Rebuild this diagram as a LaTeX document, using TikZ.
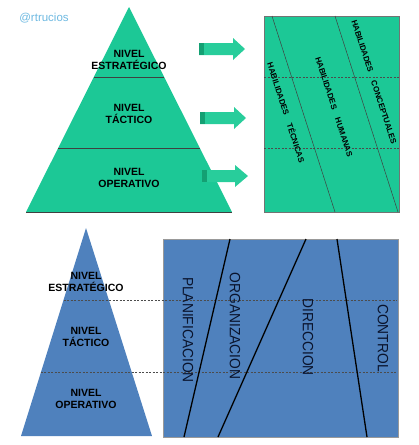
\documentclass[tikz,border=0pt]{standalone}
\usepackage{fontspec}
\setmainfont{Liberation Sans}
\definecolor{pgreen}{RGB}{28,200,150}
\definecolor{agreen}{RGB}{40,205,155}
\definecolor{adark}{RGB}{20,160,115}
\definecolor{pblue}{RGB}{79,129,189}
\definecolor{wmark}{RGB}{110,185,225}
\definecolor{navytext}{RGB}{10,20,45}
\begin{document}
\begin{tikzpicture}[x=1pt,y=-1pt,
  level/.style={font=\fontsize{10.5}{12}\selectfont\bfseries, align=center, text=black, inner sep=0pt},
  habil/.style={font=\fontsize{8}{9}\selectfont\bfseries, rotate=-72, text=black, inner sep=0pt},
  func/.style={font=\fontsize{13.8}{15}\selectfont, rotate=-90, text=navytext, inner sep=0pt},
  thinline/.style={draw=black!75, line width=0.5pt},
  dashline/.style={draw=black!70, line width=0.5pt, dash pattern=on 2pt off 1.5pt},
  thickline/.style={draw=black, line width=1.3pt}]
\useasboundingbox (0,0) rectangle (419,445);

% watermark
\node[font=\fontsize{11.5}{12}\selectfont, text=wmark, inner sep=0pt] (wm) at (44,18) {@rtrucios};

% ---------- top pyramid ----------
\fill[pgreen] (129,7) -- (232,212) -- (26,212) -- cycle;
\draw[thinline] (26,212) -- (232,212);
\draw[thinline] (93.8,77) -- (164.2,77);
\draw[thinline] (58.2,148) -- (199.8,148);
\node[level] (te) at (129,60) {NIVEL\\ESTRATÉGICO};
\node[level] (tt) at (129,114) {NIVEL\\TÁCTICO};
\node[level] (to) at (129,178) {NIVEL\\OPERATIVO};

% ---------- arrows ----------
\foreach \x/\s/\t/\c in {199/233/245/49, 200/234/246/118, 202/235/248/176}{
  \fill[agreen] (\x,\c-6) -- (\s,\c-6) -- (\s,\c-11) -- (\t,\c) -- (\s,\c+11) -- (\s,\c+6) -- (\x,\c+6) -- cycle;
  \fill[adark] (\x,\c-6) rectangle (\x+5,\c+6);
}

% ---------- top right rectangle ----------
\fill[pgreen] (264,16) rectangle (399,212);
\draw[draw=black!55, line width=0.5pt] (264,16) rectangle (399,212);
\draw[dashline] (264,77) -- (399,77);
\draw[dashline] (264,148) -- (399,148);
\draw[thinline] (272,16) -- (335,212);
\draw[thinline] (335,16) -- (398,212);
\node[habil] (ht) at (286.5,112.5) {HABILIDADES\hspace{9pt}TÉCNICAS};
\node[habil] (hh) at (334,107) {HABILIDADES\hspace{9pt}HUMANAS};
\node[habil] (hc) at (374,82) {HABILIDADES\hspace{9pt}CONCEPTUALES};

% ---------- bottom pyramid ----------
\fill[pblue] (86,228) -- (152,436) -- (21,436) -- cycle;
\fill[pblue] (163,239) rectangle (398,437);
\draw[draw=black!40, line width=0.5pt] (163,239) rectangle (398,437);
\draw[dashline] (63.5,300) -- (397,300);
\draw[dashline] (40.5,372) -- (397,372);
\node[level] (be) at (86,282) {NIVEL\\ESTRATÉGICO};
\node[level] (bt) at (86,337) {NIVEL\\TÁCTICO};
\node[level] (bo) at (86,399) {NIVEL\\OPERATIVO};

% ---------- bottom rectangle ----------
\draw[thickline] (230,239) -- (184,437);
\draw[thickline] (306,239) -- (218,437);
\draw[thickline] (337,239) -- (367,437);
\node[func] (pl) at (188,330) {\scalebox{1}[1.08]{PLANIFICACION}};
\node[func] (og) at (235,326) {\scalebox{1}[1.08]{ORGANIZACION}};
\node[func] (di) at (308,337) {\scalebox{1}[1.08]{DIRECCION}};
\node[func] (co) at (383,338) {\scalebox{1}[1.08]{CONTROL}};
\end{tikzpicture}
\end{document}
